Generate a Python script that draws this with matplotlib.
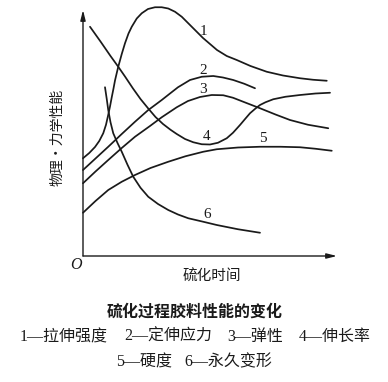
import matplotlib
matplotlib.use("Agg")
import matplotlib.pyplot as plt

plt.rcParams['font.family'] = ['Noto Sans CJK SC', 'DejaVu Sans']

# curves (time units, property units)
t1 = [0, 0.25, 0.48, 0.65, 0.81, 0.92, 1.01, 1.08, 1.15, 1.22, 1.28, 1.35, 1.41, 1.55, 1.68,
      1.82, 1.95, 2.15, 2.35, 2.6, 2.88, 3.15, 3.41, 3.68, 3.95, 4.2, 4.48, 4.8, 5.36, 5.75,
      6.15, 6.7, 7.35, 8.0, 8.68, 9.2, 9.75]
p1 = [3.91, 4.12, 4.36, 4.6, 4.91, 5.25, 5.65, 5.98, 6.35, 6.7, 7.02, 7.32, 7.57, 8.08, 8.51,
      8.9, 9.17, 9.5, 9.71, 9.88, 9.95, 9.95, 9.9, 9.77, 9.57, 9.32, 9.04, 8.72, 8.24, 8.0,
      7.84, 7.6, 7.37, 7.22, 7.11, 7.05, 7.01]

t2 = [0, 0.5, 1.01, 1.55, 2.08, 2.6, 3.15, 3.48, 3.8, 4.28, 4.75, 5.21, 5.6, 6.01, 6.45, 6.88]
p2 = [3.44, 3.9, 4.37, 4.88, 5.37, 5.83, 6.24, 6.5, 6.75, 7.04, 7.17, 7.2, 7.14, 7.04, 6.89, 6.71]

t3 = [0, 0.5, 1.01, 1.55, 2.08, 2.68, 3.15, 3.75, 4.2, 4.68, 5.15, 5.61, 6.0, 6.41, 7.08, 7.7,
      8.28, 9.0, 9.81]
p3 = [2.91, 3.38, 3.84, 4.32, 4.77, 5.2, 5.55, 5.95, 6.2, 6.36, 6.44, 6.43, 6.33, 6.17, 5.91,
      5.66, 5.44, 5.25, 5.11]

t4 = [0.28, 0.7, 1.1, 1.41, 1.68, 2.0, 2.3, 2.61, 2.9, 3.2, 3.5, 3.75, 4.08, 4.41, 4.75, 5.08,
      5.4, 5.75, 6.0, 6.28, 6.5, 6.68, 6.9, 7.08, 7.3, 7.61, 8.1, 8.68, 9.3, 9.88]
p4 = [9.17, 8.58, 8.0, 7.57, 7.18, 6.7, 6.28, 5.9, 5.56, 5.28, 5.05, 4.88, 4.68, 4.55, 4.47, 4.46,
      4.53, 4.71, 4.93, 5.24, 5.5, 5.71, 5.9, 6.04, 6.15, 6.27, 6.37, 6.44, 6.5, 6.53]

t5 = [0, 0.5, 1.01, 1.55, 2.08, 2.7, 3.41, 4.1, 4.81, 5.35, 6.2, 7.08, 7.9, 8.68, 9.3, 9.95]
p5 = [1.73, 2.2, 2.64, 2.97, 3.24, 3.52, 3.77, 3.99, 4.17, 4.27, 4.34, 4.37, 4.37, 4.35, 4.29, 4.21]

t6 = [0.88, 0.95, 1.01, 1.1, 1.21, 1.38, 1.55, 1.78, 2.01, 2.3, 2.61, 3.0, 3.41, 3.8, 4.21,
      4.81, 5.35, 6.2, 7.08]
p6 = [6.75, 6.28, 5.84, 5.35, 4.91, 4.52, 4.17, 3.65, 3.17, 2.73, 2.37, 2.08, 1.84, 1.66, 1.51,
      1.37, 1.24, 1.07, 0.93]

curves = [(t1, p1), (t2, p2), (t3, p3), (t4, p4), (t5, p5), (t6, p6)]
labels = ['1', '2', '3', '4', '5', '6']
label_pos = [(4.81, 8.97), (4.81, 7.44), (4.81, 6.67), (4.95, 4.77), (7.21, 4.71), (4.95, 1.64)]

legend_row1 = ['1—拉伸强度', '2—定伸应力', '3—弹性', '4—伸长率']
legend_row2 = ['5—硬度', '6—永久变形']

W, H = 388, 382
fig = plt.figure(figsize=(W / 100, H / 100), dpi=100)
fig.patch.set_facecolor('white')

xmax, ymax = 10.16, 9.84
ax = fig.add_axes([83 / W, (H - 256) / H, 254 / W, 246 / H])
ax.set_xlim(0, xmax)
ax.set_ylim(0, ymax)
ax.axis('off')

ink = '#1a1a1a'
for (t, p) in curves:
    ax.plot(t, p, color=ink, lw=1.25, solid_joinstyle='round', solid_capstyle='round',
            clip_on=False)
for lab, (x, y) in zip(labels, label_pos):
    ax.text(x, y, lab, family='Liberation Serif', fontsize=11, color=ink,
            ha='center', va='center')

# axes with arrows
arrow = dict(arrowstyle='-|>,head_length=0.6,head_width=0.15', color=ink, lw=1.0,
             shrinkA=0, shrinkB=0)
ax.annotate('', xy=(xmax, 0), xytext=(0, 0), arrowprops=arrow, annotation_clip=False)
ax.annotate('', xy=(0, ymax), xytext=(0, 0), arrowprops=arrow, annotation_clip=False)

fig.text(76 / W, 1 - 265 / H, 'O', family='Liberation Serif', style='italic',
         fontsize=11.5, ha='center', va='center', color=ink)
fig.text(57 / W, 1 - 137 / H, '物理·力学性能', rotation=90, fontsize=10,
         ha='center', va='center', color=ink)
fig.text(212 / W, 1 - 277 / H, '硫化时间', fontsize=10.5, ha='center', va='center', color=ink)

fig.text(195 / W, 1 - 312 / H, '硫化过程胶料性能的变化', fontsize=11.5, weight='bold',
         ha='center', va='center', color=ink)
leg_font = ['Liberation Serif', 'Noto Sans CJK SC']
for txt, x in zip(legend_row1, [20, 124, 227, 299]):
    fig.text(x / W, 1 - 337 / H, txt, family=leg_font, fontsize=11.5,
             ha='left', va='center', color=ink)
for txt, x in zip(legend_row2, [116, 184]):
    fig.text(x / W, 1 - 362 / H, txt, family=leg_font, fontsize=11.5,
             ha='left', va='center', color=ink)

fig.savefig('out.png', dpi=100)
